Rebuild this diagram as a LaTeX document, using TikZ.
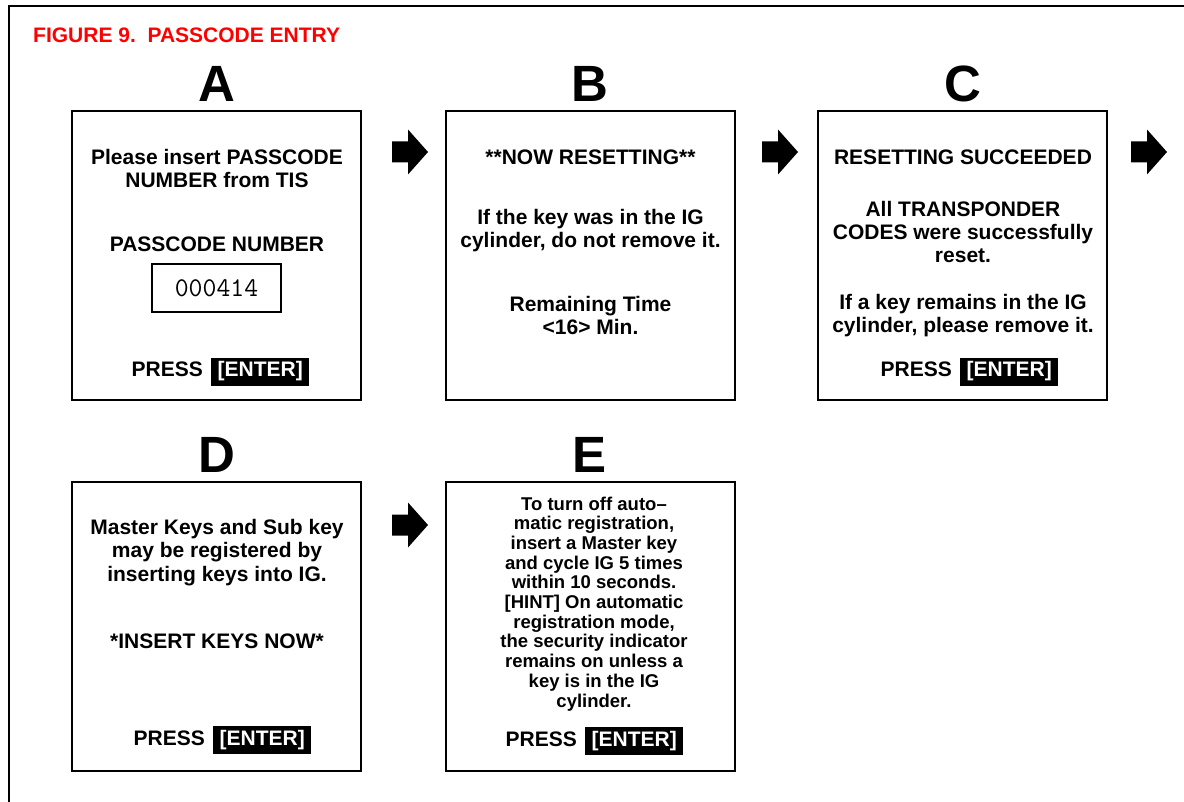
\documentclass[tikz,border=0pt]{standalone}
\usepackage{fontspec}
\setmainfont{Liberation Sans}
\usetikzlibrary{positioning}
\tikzset{
	screen/.style={draw, line width=2pt, minimum width=289pt, minimum height=289pt, inner sep=0pt},
	title/.style={text=red, inner sep=0pt, font=\fontsize{21}{21}\selectfont\bfseries},
	letter/.style={inner sep=0pt, font=\fontsize{51}{51}\selectfont\bfseries},
	msg/.style={align=center, inner sep=0pt, font=\fontsize{21}{23.3}\selectfont\bfseries},
	hint/.style={align=center, inner sep=0pt, font=\fontsize{18.5}{19.7}\selectfont\bfseries},
	key/.style={fill=black, text=white, inner xsep=6.5pt, inner ysep=0pt, minimum height=28pt, font=\fontsize{21}{21}\selectfont\bfseries},
	codebox/.style={draw, line width=1.5pt, minimum width=129pt, minimum height=48pt, font=\fontsize{27}{27}\selectfont\ttfamily},
	blk/.pic={\fill (-18,-10.5) -- (-2,-10.5) -- (-2,-22.5) -- (18,0) -- (-2,22.5) -- (-2,10.5) -- (-18,10.5) -- cycle;},
}

\begin{document}
\begin{tikzpicture}[x=1pt, y=-1pt]
	\useasboundingbox (0,0) rectangle (1184,802);
	\draw[line width=2pt] (9,802) -- (9,6) -- (1184,6);

	\node[title, anchor=base west] (fig) at (33,43) {FIGURE 9.\ \ PASSCODE ENTRY};

	% screens
	\node[screen] (A) at (216.5,256) {};
	\node[screen] (B) at (590.5,256) {};
	\node[screen] (C) at (962.5,256) {};
	\node[screen] (D) at (216.5,626.5) {};
	\node[screen] (E) at (590.5,626.5) {};

	\node[letter, anchor=base] (lA) at (217,102) {A};
	\node[letter, anchor=base] (lB) at (590,102) {B};
	\node[letter, anchor=base] (lC) at (963,102) {C};
	\node[letter, anchor=base] (lD) at (217,472) {D};
	\node[letter, anchor=base] (lE) at (590,472) {E};

	% A (base = last line)
	\node[msg, anchor=base] (a1) at (217,188) {Please insert PASSCODE\\NUMBER from TIS};
	\node[msg, anchor=base] (a2) at (217,252) {PASSCODE NUMBER};
	\node[codebox] (code) at (216.5,288) {000414};
	\node[msg, anchor=base east] (pA) at (203,377) {PRESS};
	\node[key, base right=8pt of pA] (kA) {[ENTER]};

	% B
	\node[msg, anchor=base] (b1) at (590.5,165) {**NOW RESETTING**};
	\node[msg, anchor=base] (b2) at (590.5,248) {If the key was in the IG\\cylinder, do not remove it.};
	\node[msg, anchor=base] (b3) at (590.5,335) {Remaining Time\\<16> Min.};

	% C
	\node[msg, anchor=base] (c1) at (963,165) {RESETTING SUCCEEDED};
	\node[msg, anchor=base] (c2) at (963,263) {All TRANSPONDER\\CODES were successfully\\reset.};
	\node[msg, anchor=base] (c3) at (963,333) {If a key remains in the IG\\cylinder, please remove it.};
	\node[msg, anchor=base east] (pC) at (952,377) {PRESS};
	\node[key, base right=8pt of pC] (kC) {[ENTER]};

	% D
	\node[msg, anchor=base] (d1) at (217,581) {Master Keys and Sub key\\may be registered by\\inserting keys into IG.};
	\node[msg, anchor=base] (d2) at (217,648) {*INSERT KEYS NOW*};
	\node[msg, anchor=base east] (pD) at (205,745) {PRESS};
	\node[key, base right=8pt of pD] (kD) {[ENTER]};

	% E
	\node[hint, anchor=base] (e1) at (594,707) {To turn off auto--\\matic registration,\\insert a Master key\\and cycle IG 5 times\\within 10 seconds.\\{[HINT]} On automatic\\registration mode,\\the security indicator\\remains on unless a\\key is in the IG\\cylinder.};
	\node[msg, anchor=base east] (pE) at (577,746) {PRESS};
	\node[key, base right=8pt of pE] (kE) {[ENTER]};

	% arrows
	\pic at (410,152) {blk};
	\pic at (780,152) {blk};
	\pic at (1149,152) {blk};
	\pic at (410,525) {blk};
\end{tikzpicture}
\end{document}
